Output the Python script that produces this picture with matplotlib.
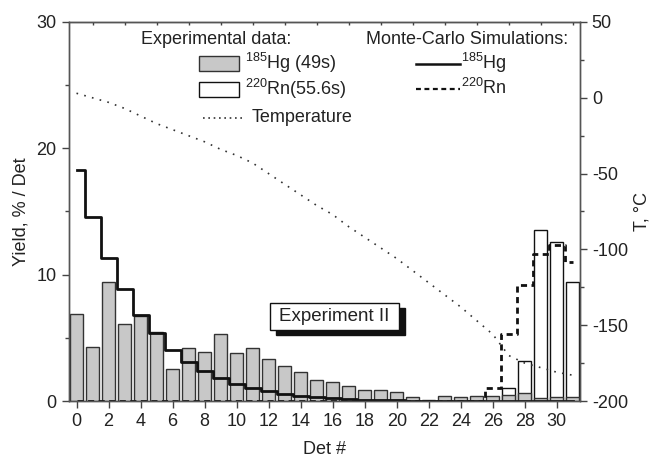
import matplotlib
matplotlib.use("Agg")
import matplotlib.pyplot as plt
from matplotlib.patches import Rectangle
from matplotlib.lines import Line2D
from matplotlib.ticker import MultipleLocator

plt.rcParams['font.family'] = ['Liberation Sans', 'DejaVu Sans']
plt.rcParams['mathtext.default'] = 'regular'
plt.rcParams['axes.unicode_minus'] = False

# detector numbers
det = list(range(32))

# experimental yields, % / Det
hg_exp = [6.9, 4.3, 9.4, 6.1, 6.7, 5.5, 2.5, 4.2, 3.9, 5.3, 3.8, 4.2, 3.3, 2.8, 2.3, 1.7,
          1.5, 1.2, 0.9, 0.85, 0.75, 0.3, 0.05, 0.4, 0.3, 0.4, 0.4, 0.5, 0.63, 0.25, 0.35, 0.35]
rn_exp = [0] * 27 + [1.05, 3.2, 13.5, 12.6, 9.45]

# Monte-Carlo simulations
hg_mc = [18.3, 14.6, 11.3, 8.9, 6.8, 5.4, 4.0, 3.1, 2.4, 1.8, 1.35, 1.0, 0.8, 0.58, 0.4, 0.28,
         0.2, 0.15, 0.1, 0.07, 0.05, 0.03, 0.02, 0.01, 0, 0, 0, 0, 0, 0, 0, 0]
rn_mc = [0] * 26 + [1.05, 5.3, 9.2, 11.6, 12.35, 11.0]

# temperature profile, deg C
temp = [3, 0, -3, -7, -12, -17, -21, -25, -29, -34, -38, -43, -50, -57, -64, -71,
        -77, -85, -92, -99, -106, -114, -122, -130, -138, -147, -156, -170, -175, -178, -181, -183]

W, H = 657, 461
fig = plt.figure(figsize=(W / 100, H / 100), dpi=100)
ax1 = fig.add_axes([68.5 / W, 1 - 401 / H, (580 - 68.5) / W, (401 - 22) / H])
ax2 = ax1.twinx()

# pixel -> figure fraction helpers
def fx(px):
    return px / W

def fy(py):
    return 1 - py / H

txt_color = '#222222'
fs = 13

# bars: Rn behind, Hg in front
ax1.bar(det, rn_exp, width=0.82, color='white', edgecolor='#111111', linewidth=1.0, zorder=2)
ax1.bar(det, hg_exp, width=0.82, color='#c8c8c8', edgecolor='#333333', linewidth=1.0, zorder=3)

# MC step lines
ax1.step(det, hg_mc, where='mid', color='#111111', linewidth=2.0, zorder=4)
ax1.step(det, rn_mc, where='mid', color='#111111', linewidth=2.0,
         linestyle=(0, (2.2, 1.6)), zorder=4)

# temperature
ax2.plot(det, temp, color='#333333', linewidth=1.2, linestyle=(0, (1, 3.8)))

ax1.set_xlim(-0.5, 31.45)
ax1.set_ylim(0, 30)
ax2.set_ylim(-200, 50)

ax1.xaxis.set_major_locator(MultipleLocator(2))
ax1.xaxis.set_minor_locator(MultipleLocator(1))
ax1.yaxis.set_major_locator(MultipleLocator(10))
ax1.yaxis.set_minor_locator(MultipleLocator(5))
ax2.yaxis.set_major_locator(MultipleLocator(50))
ax2.yaxis.set_minor_locator(MultipleLocator(25))

ax1.tick_params(axis='both', which='major', direction='out', length=5, width=1,
                labelsize=fs, labelcolor=txt_color, color='#444444')
ax1.tick_params(axis='both', which='minor', direction='out', length=3, width=1, color='#444444')
ax1.tick_params(axis='x', which='minor', top=True, direction='in', length=2)
ax2.tick_params(axis='y', which='major', direction='out', length=5, width=1,
                labelsize=fs, labelcolor=txt_color, color='#444444')
ax2.tick_params(axis='y', which='minor', direction='out', length=3, width=1, color='#444444')

for a in (ax1, ax2):
    for s in a.spines.values():
        s.set_color('#555555')
        s.set_linewidth(1.0)
ax1.spines['top'].set_color('#222222')

ax1.set_xlabel('Det #', fontsize=fs, color=txt_color, labelpad=8)
ax1.set_ylabel('Yield, % / Det', fontsize=fs, color=txt_color, labelpad=5)
ax2.set_ylabel('T, °C', fontsize=fs, color=txt_color, labelpad=4)

# legend, experimental data
fig.text(fx(141), fy(40), 'Experimental data:', fontsize=fs, color=txt_color, va='center')
fig.add_artist(Rectangle((fx(199), fy(71)), fx(40), 15 / H, transform=fig.transFigure,
                         facecolor='#c8c8c8', edgecolor='#333333', linewidth=1.0))
fig.text(fx(245), fy(63), '$^{185}$Hg (49s)', fontsize=fs, color=txt_color, va='center')
fig.add_artist(Rectangle((fx(199), fy(97.5)), fx(40), 15 / H, transform=fig.transFigure,
                         facecolor='white', edgecolor='#111111', linewidth=1.0))
fig.text(fx(245), fy(89), '$^{220}$Rn(55.6s)', fontsize=fs, color=txt_color, va='center')
fig.add_artist(Line2D([fx(203), fx(244)], [fy(118), fy(118)], transform=fig.transFigure,
                      color='#333333', linewidth=1.2, linestyle=(0, (1, 2.2))))
fig.text(fx(252), fy(117), 'Temperature', fontsize=fs, color=txt_color, va='center')

# legend, MC simulations
fig.text(fx(366), fy(40), 'Monte-Carlo Simulations:', fontsize=fs, color=txt_color, va='center')
fig.add_artist(Line2D([fx(416), fx(460)], [fy(64), fy(64)], transform=fig.transFigure,
                      color='#111111', linewidth=1.8))
fig.text(fx(461), fy(63), '$^{185}$Hg', fontsize=fs, color=txt_color, va='center')
fig.add_artist(Line2D([fx(416), fx(460)], [fy(89), fy(89)], transform=fig.transFigure,
                      color='#111111', linewidth=1.6, linestyle=(0, (2.2, 1.6))))
fig.text(fx(461), fy(88), '$^{220}$Rn', fontsize=fs, color=txt_color, va='center')

# "Experiment II" box with shadow
fig.add_artist(Rectangle((fx(276), fy(335)), fx(129), 27.5 / H, transform=fig.transFigure,
                         facecolor='#111111', edgecolor='#111111', zorder=5))
fig.add_artist(Rectangle((fx(270), fy(330)), fx(129), 27.5 / H, transform=fig.transFigure,
                         facecolor='white', edgecolor='#111111', linewidth=1.0, zorder=6))
fig.text(fx(334.5), fy(316.5), 'Experiment II', fontsize=13.5, color=txt_color,
         ha='center', va='center', zorder=7)

fig.savefig('out.png', dpi=100)
